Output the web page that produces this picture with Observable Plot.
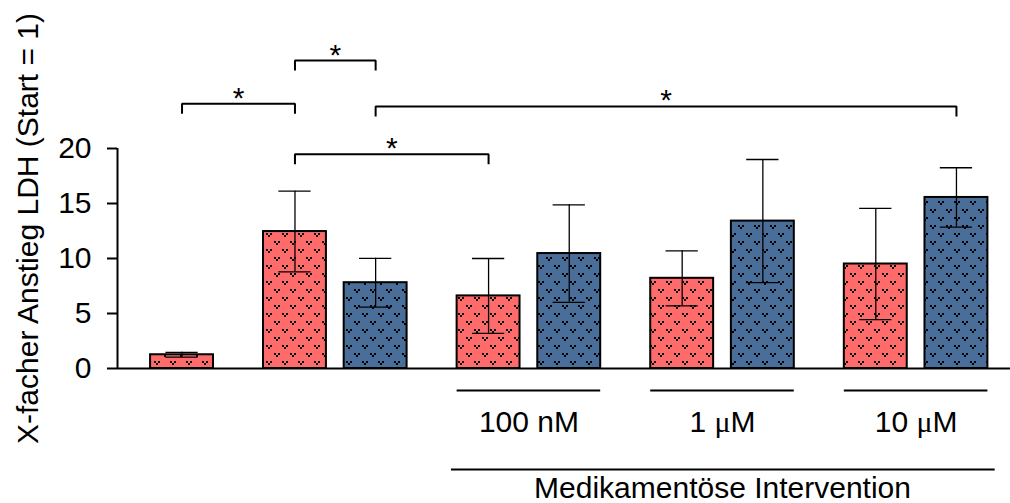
<!DOCTYPE html>
<html>
<head>
<meta charset="utf-8">
<script src="https://cdn.jsdelivr.net/npm/d3@7"></script>
<script src="https://cdn.jsdelivr.net/npm/@observablehq/plot@0.6"></script>
<style>
  html, body { margin: 0; padding: 0; background: #fff; }
  svg { display: block; }
</style>
</head>
<body>
<div id="chart"></div>
<script>
// LDH release as fold change relative to start (= 1); mean ± SD per condition.
const group  = ["Basis", "Stimulus", "Stimulus", "100 nM", "100 nM", "1 μM", "1 μM", "10 μM", "10 μM"];
const series = ["A", "A", "B", "A", "B", "A", "B", "A", "B"];
const mean   = [1.25, 12.45, 7.8, 6.6, 10.45, 8.2, 13.4, 9.5, 15.55];
const sd     = [0.22, 3.67, 2.22, 3.4, 4.43, 2.5, 5.6, 5.05, 2.7];

const yTicks = [0, 5, 10, 15, 20];
const yLabel = "X-facher Anstieg LDH (Start = 1)";
const doseGroups = ["100 nM", "1 μM", "10 μM"];
const interventionLabel = "Medikamentöse Intervention";

// Significance comparisons between bars (indices into the arrays above)
const sigFrom  = [0, 1, 2, 1];
const sigTo    = [1, 2, 8, 3];
const sigLabel = ["*", "*", "*", "*"];

// ---- layout ----
const seriesColor = { A: "#FF6A6A", B: "#4A6E9A" };
const HALF = 0.39;   // half bar width (x units)
const CAP = 0.2;     // half error-cap width
const DROP = 0.82;   // bracket leg length (y units)
const bracketLevel = [24.06, 28.0, 23.82, 19.47];

// bars inside a group sit 1 unit apart, groups are separated by 1.4 units
const xPos = [];
group.forEach((g, i) => {
  xPos.push(i === 0 ? 0 : xPos[i - 1] + (g === group[i - 1] ? 1 : 1.4));
});

const bars = group.map((g, i) => ({
  group: g, series: series[i], mean: mean[i], sd: sd[i], x: xPos[i]
}));

const caps = bars.flatMap(d => [d.mean - d.sd, d.mean + d.sd].map(y => ({x: d.x, y})));

const brackets = sigFrom.flatMap((a, k) => {
  const x1 = xPos[a], x2 = xPos[sigTo[k]], y = bracketLevel[k];
  return [
    {k, x: x1, y: y - DROP}, {k, x: x1, y}, {k, x: x2, y}, {k, x: x2, y: y - DROP}
  ];
});
const stars = sigFrom.map((a, k) => ({
  x: (xPos[a] + xPos[sigTo[k]]) / 2, y: bracketLevel[k], text: sigLabel[k]
}));

const doseSpans = doseGroups.map(g => {
  const xs = bars.filter(d => d.group === g).map(d => d.x);
  return {label: g, x1: d3.min(xs) - HALF, x2: d3.max(xs) + HALF, cx: d3.mean(xs)};
});
const allDose = bars.filter(d => doseGroups.includes(d.group)).map(d => d.x);
const interventionSpan = [{
  x1: d3.min(allDose) - HALF - 0.07, x2: d3.max(allDose) + HALF + 0.09,
  cx: (d3.min(allDose) + d3.max(allDose)) / 2, label: interventionLabel
}];

const xDomain = [-0.8, 10.27];
const font = "'Liberation Sans', Arial, Helvetica, sans-serif";

const chart = Plot.plot({
  width: 1010,
  height: 503,
  marginLeft: 117,
  marginRight: 0,
  marginTop: 148,
  marginBottom: 135,
  style: { fontFamily: font, fontSize: "30px", color: "black", background: "white" },
  x: { domain: xDomain, axis: null },
  y: { domain: [0, 20] },
  color: { type: "identity" },
  marks: [
    Plot.axisY({ ticks: yTicks, tickSize: 10, tickPadding: 16, fontSize: 30, strokeWidth: 2, label: null }),
    Plot.ruleX([xDomain[0]], { y1: 0, y2: 20, stroke: "black", strokeWidth: 2 }),
    Plot.rect(bars, {
      x1: d => d.x - HALF, x2: d => d.x + HALF, y1: 0, y2: "mean",
      fill: d => `url(#hatch-${d.series})`, stroke: "black", strokeWidth: 2
    }),
    Plot.ruleX(bars, { x: "x", y1: d => d.mean - d.sd, y2: d => d.mean + d.sd, stroke: "black", strokeWidth: 1.3 }),
    Plot.ruleY(caps, { y: "y", x1: d => d.x - CAP, x2: d => d.x + CAP, stroke: "black", strokeWidth: 1.3 }),
    Plot.ruleY([0], { stroke: "black", strokeWidth: 2 }),
    // significance brackets
    Plot.line(brackets, { x: "x", y: "y", z: "k", stroke: "black", strokeWidth: 2,
      strokeLinejoin: "miter", strokeLinecap: "square" }),
    Plot.text(stars, { x: "x", y: "y", text: "text", lineAnchor: "bottom", dy: 4, fontSize: 30 }),
    // dose group annotation below the axis
    Plot.ruleY(doseSpans, { y: 0, x1: "x1", x2: "x2", dy: 22, stroke: "black", strokeWidth: 2 }),
    Plot.text(doseSpans, { x: "cx", y: 0, text: "label", lineAnchor: "bottom", dy: 63, fontSize: 30 }),
    Plot.ruleY(interventionSpan, { y: 0, x1: "x1", x2: "x2", dy: 101, stroke: "black", strokeWidth: 2 }),
    Plot.text(interventionSpan, { x: "cx", y: 0, text: "label", lineAnchor: "bottom", dy: 129, fontSize: 30 }),
    // y-axis title
    Plot.text([yLabel], { frameAnchor: "left", text: d => d, rotate: -90, lineAnchor: "bottom",
      textAnchor: "middle", dx: -80, dy: -30, fontSize: 30 })
  ]
});

// dotted fill patterns for the two series
const ns = "http://www.w3.org/2000/svg";
const defs = document.createElementNS(ns, "defs");
for (const [key, color] of Object.entries(seriesColor)) {
  const pat = document.createElementNS(ns, "pattern");
  pat.setAttribute("id", `hatch-${key}`);
  pat.setAttribute("patternUnits", "userSpaceOnUse");
  pat.setAttribute("width", 16);
  pat.setAttribute("height", 16);
  const bg = document.createElementNS(ns, "rect");
  bg.setAttribute("width", 16); bg.setAttribute("height", 16); bg.setAttribute("fill", color);
  pat.appendChild(bg);
  for (const [ox, oy] of [[2, 1], [10, 9]]) {
    for (const [dx, dy] of [[0, 0], [4, 0], [2, 2]]) {
      const r = document.createElementNS(ns, "rect");
      r.setAttribute("x", ox + dx); r.setAttribute("y", oy + dy);
      r.setAttribute("width", 2); r.setAttribute("height", 2);
      r.setAttribute("fill", "black");
      pat.appendChild(r);
    }
  }
  defs.appendChild(pat);
}
chart.insertBefore(defs, chart.firstChild);

// set the micro sign in a serif face, as in the dose labels
chart.querySelectorAll("text").forEach(t => {
  if (!t.textContent.includes("μ") || t.children.length) return;
  const parts = t.textContent.split("μ");
  t.textContent = "";
  parts.forEach((p, i) => {
    if (i > 0) {
      const mu = document.createElementNS(ns, "tspan");
      mu.setAttribute("font-family", "'Liberation Serif', 'DejaVu Serif', serif");
      mu.textContent = "μ";
      t.appendChild(mu);
    }
    if (p) t.appendChild(document.createTextNode(p));
  });
});

document.getElementById("chart").appendChild(chart);
</script>
</body>
</html>
